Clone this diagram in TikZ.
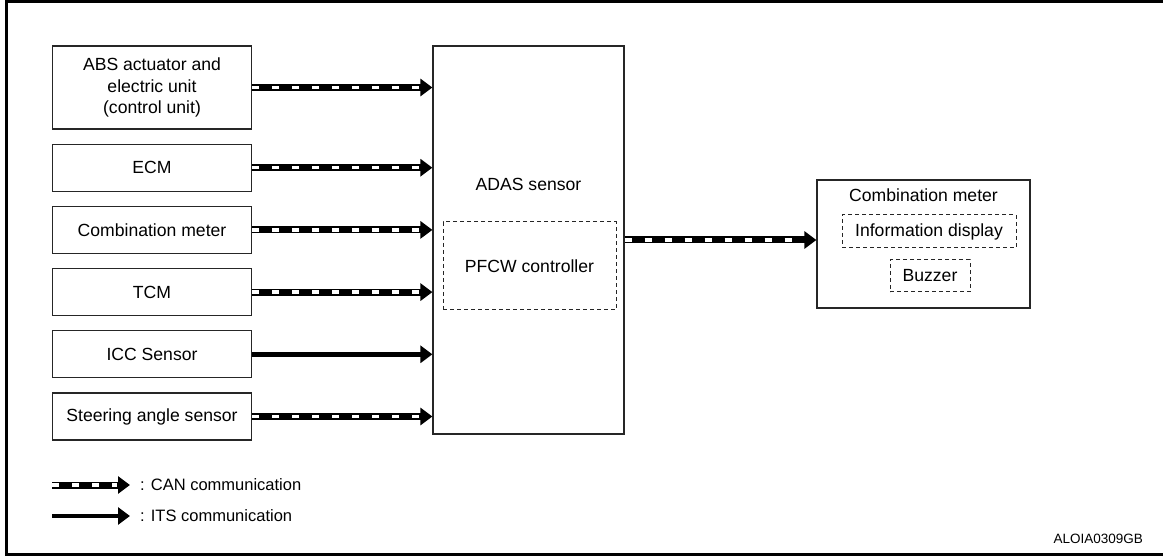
\documentclass[tikz,border=0pt]{standalone}
\usepackage{fontspec}
\setmainfont{Liberation Sans}
\usetikzlibrary{arrows.meta, positioning}

\begin{document}
\begin{tikzpicture}[
    x=1pt, y=-1pt,
    node distance=14pt,
    font=\fontsize{17.6}{21.5}\selectfont,
    unit/.style={rectangle, draw=black!85, line width=1.2pt, minimum width=199pt,
                 minimum height=47pt, align=center, inner sep=2pt},
    inner/.style={rectangle, draw=black!85, line width=1pt, dash pattern=on 4pt off 3pt,
                  align=center, inner sep=2pt},
    legend/.style={anchor=west, inner sep=0, font=\fontsize{16.5}{20}\selectfont},
    can/.style={line width=7pt, -{Triangle[length=12pt,width=17pt]},
                postaction={draw=white, line width=3.5pt, dash pattern=on 7pt off 13pt,
                            shorten >=13pt, -}},
    its/.style={line width=4.5pt, -{Triangle[length=12pt,width=17pt]}}
]
\useasboundingbox (0,0) rectangle (1163,556);

% Frame
\draw[line width=3pt] (1163,1.5) -- (6.5,1.5) -- (6.5,554) -- (1163,554);

% Inputs
\node[unit, minimum height=83pt] (abs) at (152,87.5) {ABS actuator and\\electric unit\\(control unit)};
\node[unit, below=of abs] (ecm) {ECM};
\node[unit, below=of ecm] (meterin) {Combination meter};
\node[unit, below=of meterin] (tcm) {TCM};
\node[unit, below=of tcm] (icc) {ICC Sensor};
\node[unit, below=of icc] (steer) {Steering angle sensor};

% ADAS sensor
\node[unit, minimum width=191pt, minimum height=388pt] (adas) at (528.5,240) {};
\node (adaslbl) at (528.5,184) {ADAS sensor};
\node[inner, minimum width=173pt, minimum height=88pt] (pfcw) at (529.5,266) {PFCW controller};

% Combination meter
\node[unit, minimum width=213pt, minimum height=128pt] (meter) at (923.5,244) {};
\node (meterlbl) at (923.5,195) {Combination meter};
\node[inner, minimum width=174pt, minimum height=33pt] (info) at (929,231.5) {Information display};
\node[inner, minimum width=80pt, minimum height=32pt] (buzzer) at (930,276) {Buzzer};

% Arrows
\draw[can] (abs.east) -- (abs.east -| adas.west);
\draw[can] (ecm.east) -- (ecm.east -| adas.west);
\draw[can] (meterin.east) -- (meterin.east -| adas.west);
\draw[can] (tcm.east) -- (tcm.east -| adas.west);
\draw[its] (icc.east) -- (icc.east -| adas.west);
\draw[can] (steer.east) -- (steer.east -| adas.west);
\draw[can] (adas.east) -- (adas.east -| meter.west);

% Legend
\coordinate (canA) at (52,485);
\coordinate (canB) at (130,485);
\coordinate (itsA) at (52,516);
\coordinate (itsB) at (130,516);
\draw[can] (canA) -- (canB);
\draw[its] (itsA) -- (itsB);
\node[legend] (cantxt) at (140,485) {: CAN communication};
\node[legend] (itstxt) at (140,516) {: ITS communication};

\node[anchor=east, inner sep=0, font=\fontsize{13.5}{16}\selectfont] (code) at (1143,539) {ALOIA0309GB};

\end{tikzpicture}
\end{document}
